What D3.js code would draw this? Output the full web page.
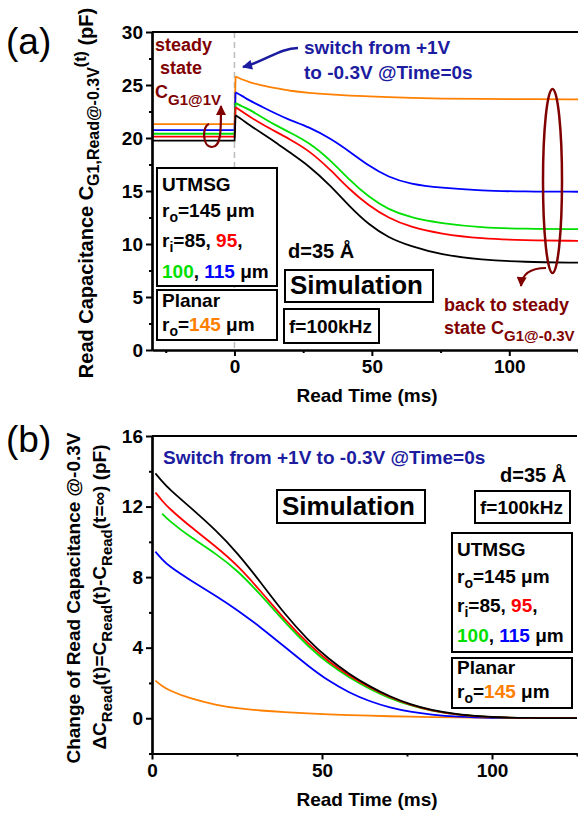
<!DOCTYPE html>
<html>
<head>
<meta charset="utf-8">
<script src="https://cdn.jsdelivr.net/npm/d3@7"></script>
<style>
  body { margin: 0; background: #fff; }
  svg text { font-family: "Liberation Sans", Arial, sans-serif; font-weight: bold; white-space: pre; }
</style>
</head>
<body>
<div id="chart"></div>
<script>
// series order: planar 145, r_i = 115, 100, 95, 85 um
const seriesColors = ["#ff8000", "#0000ff", "#00e000", "#ff0000", "#000000"];

// panel (a): C(t) in pF
const steadyA = [21.3, 20.75, 20.4, 20.13, 19.75];   // before the switch (t < 0)
const timeA = [0.4, 3, 5, 10, 15, 20, 27, 35, 42, 49, 56, 64, 75, 90, 105, 125];
const orangeA = [25.8, 25.5, 25.3, 24.95, 24.7, 24.45, 24.25, 24.1, 24.0, 23.93, 23.85, 23.78, 23.72, 23.68, 23.66, 23.65];
const blueA = [24.3, 23.95, 23.6, 22.95, 22.3, 21.7, 21.05, 19.95, 18.7, 17.35, 16.3, 15.65, 15.3, 15.02, 14.95, 14.93];
const greenA = [23.3, 22.95, 22.75, 21.95, 21.2, 20.55, 19.6, 17.9, 16.0, 14.4, 13.25, 12.5, 11.95, 11.55, 11.43, 11.4];
const redA = [22.9, 22.45, 22.1, 21.3, 20.6, 19.9, 18.85, 17.0, 15.1, 13.6, 12.45, 11.6, 10.95, 10.5, 10.35, 10.3];
const blackA = [22.15, 21.7, 21.3, 20.45, 19.6, 18.65, 17.4, 15.5, 13.5, 11.8, 10.6, 9.8, 9.0, 8.5, 8.3, 8.24];

// panel (b): delta C(t) = C(t) - C(inf)
const timeB = [1, 3, 5, 11, 19, 25, 32, 39, 46, 52, 58, 64, 70, 76, 82, 90, 100, 110, 125];
const orangeB = [2.13, 1.82, 1.58, 1.12, 0.74, 0.56, 0.43, 0.34, 0.27, 0.22, 0.18, 0.14, 0.11, 0.085, 0.065, 0.045, 0.025, 0.012, 0];
const blueB = [9.44, 9.0, 8.62, 7.85, 6.92, 6.15, 5.15, 4.05, 2.95, 2.1, 1.45, 0.95, 0.6, 0.36, 0.2, 0.08, 0.02, 0, 0];
const greenB = [null, 11.6, 11.2, 10.3, 9.3, 8.4, 7.0, 5.45, 4.05, 3.08, 2.3, 1.66, 1.12, 0.72, 0.42, 0.18, 0.05, 0.01, 0];
const redB = [12.8, 12.32, 11.9, 10.9, 9.7, 8.7, 7.2, 5.6, 4.2, 3.2, 2.4, 1.74, 1.18, 0.75, 0.44, 0.19, 0.05, 0.01, 0];
const blackB = [13.88, 13.42, 13.0, 12.0, 10.62, 9.4, 7.7, 5.9, 4.4, 3.35, 2.5, 1.8, 1.22, 0.78, 0.46, 0.2, 0.05, 0.01, 0];

// tick values
const xTicksA = [0, 50, 100], xMinorA = [-25, 25, 75, 125];
const yTicksA = [0, 5, 10, 15, 20, 25, 30], yMinorA = [2.5, 7.5, 12.5, 17.5, 22.5, 27.5];
const xTicksB = [0, 50, 100], xMinorB = [25, 75, 125];
const yTicksB = [0, 4, 8, 12, 16], yMinorB = [-2, 2, 6, 10, 14];

const W = 578, H = 814;
const svg = d3.select("#chart").append("svg").attr("width", W).attr("height", H);

const MAROON = "#800000", NAVY = "#1c1ca0";

// arrow heads
const defs = svg.append("defs");
[["arrMaroon", MAROON], ["arrNavy", NAVY]].forEach(([id, c]) => {
  defs.append("marker")
    .attr("id", id).attr("viewBox", "0 0 10 10")
    .attr("refX", 9).attr("refY", 5)
    .attr("markerUnits", "userSpaceOnUse")
    .attr("markerWidth", 11).attr("markerHeight", 10)
    .attr("orient", "auto")
    .append("path").attr("d", "M0,0 L10,5 L0,10 z").attr("fill", c);
});

// text with subscript / superscript parts
function rich(parent, x, y, parts, size, fill) {
  const t = parent.append("text").attr("x", x).attr("y", y)
    .style("font-size", size + "px").attr("fill", fill || "#000");
  let shift = 0;
  parts.forEach(p => {
    const s = p.s || 0;
    const ts = t.append("tspan").text(p.t).attr("dy", s - shift);
    shift = s;
    if (p.size) ts.style("font-size", p.size + "px");
    if (p.fill) ts.attr("fill", p.fill);
  });
  return t;
}

function drawAxes(g, x, y, xt, xm, yt, ym) {
  const [x0, x1] = x.range(), [y0, y1] = y.range();
  g.append("g").attr("transform", `translate(0,${y0})`)
    .call(d3.axisBottom(x).tickValues(xt).tickSize(6).tickPadding(4).tickSizeOuter(0).tickFormat(d3.format("d")));
  g.append("g").attr("transform", `translate(0,${y0})`).attr("class", "minor")
    .call(d3.axisBottom(x).tickValues(xm).tickSize(3).tickSizeOuter(0).tickFormat(""));
  g.append("g").attr("transform", `translate(${x0},0)`)
    .call(d3.axisLeft(y).tickValues(yt).tickSize(6).tickPadding(3).tickSizeOuter(0).tickFormat(d3.format("d")));
  g.append("g").attr("transform", `translate(${x0},0)`).attr("class", "minor")
    .call(d3.axisLeft(y).tickValues(ym).tickSize(3).tickSizeOuter(0).tickFormat(""));
  g.selectAll(".domain").attr("stroke-width", 2.2);
  g.selectAll(".tick line").attr("stroke-width", 2);
  g.selectAll(".tick text").style("font-size", "19px").attr("fill", "#000");
  // top frame line
  g.append("line").attr("x1", x0).attr("x2", x1).attr("y1", y1).attr("y2", y1)
    .attr("stroke", "#000").attr("stroke-width", 2.2);
}

function box(g, x, y, w, h) {
  g.append("rect").attr("x", x).attr("y", y).attr("width", w).attr("height", h)
    .attr("fill", "#fff").attr("stroke", "#000").attr("stroke-width", 2);
}

function legendBoxes(g, bx, by, lineYs, planarY, planarLines) {
  box(g, bx, by, 120, lineYs[4]);
  const tx = bx + 5;
  rich(g, tx, lineYs[0], [{t: "UTMSG"}], 19);
  rich(g, tx, lineYs[1], [{t: "r"}, {t: "o", s: 5, size: 14}, {t: "=145 μm", s: 0}], 19);
  rich(g, tx, lineYs[2], [{t: "r"}, {t: "i", s: 5, size: 14}, {t: "=85, ", s: 0}, {t: "95", fill: seriesColors[3]}, {t: ","}], 19);
  rich(g, tx, lineYs[3], [{t: "100", fill: seriesColors[2]}, {t: ", "}, {t: "115", fill: seriesColors[1]}, {t: " μm"}], 19);
  box(g, bx, planarY, 120, 50);
  rich(g, tx, planarLines[0], [{t: "Planar"}], 19);
  rich(g, tx, planarLines[1], [{t: "r"}, {t: "o", s: 5, size: 14}, {t: "=", s: 0}, {t: "145", fill: seriesColors[0]}, {t: " μm"}], 19);
}

// ---------------- panel (a) ----------------
const gA = svg.append("g");
const xA = d3.scaleLinear().domain([-30, 125]).range([152, 578]);
const yA = d3.scaleLinear().domain([0, 30]).range([350, 32]);

// dashed line at t = 0
gA.append("line").attr("x1", xA(0)).attr("x2", xA(0)).attr("y1", yA(30)).attr("y2", yA(0))
  .attr("stroke", "#bbb").attr("stroke-width", 1.5).attr("stroke-dasharray", "6,4");

const seriesA = [orangeA, blueA, greenA, redA, blackA];
const lineLin = d3.line().x(d => xA(d[0])).y(d => yA(d[1]));
const lineA = d3.line().x(d => xA(d[0])).y(d => yA(d[1])).curve(d3.curveBasis);
seriesA.forEach((vals, i) => {
  const pre = [[-30, steadyA[i]], [0.05, steadyA[i]], [timeA[0], vals[0]]];
  gA.append("path").attr("d", lineLin(pre)).attr("fill", "none")
    .attr("stroke", seriesColors[i]).attr("stroke-width", 1.8);
  gA.append("path").attr("d", lineA(timeA.map((t, j) => [t, vals[j]]))).attr("fill", "none")
    .attr("stroke", seriesColors[i]).attr("stroke-width", 1.8);
});

drawAxes(gA, xA, yA, xTicksA, xMinorA, yTicksA, yMinorA);

// panel label and axis titles
gA.append("text").attr("x", 6).attr("y", 54).style("font-size", "37px").style("font-weight", "normal").text("(a)");
gA.append("text").attr("x", 367).attr("y", 402).attr("text-anchor", "middle").style("font-size", "19px").text("Read Time (ms)");
rich(gA, 0, 0, [
  {t: "Read Capacitance C"}, {t: "G1,Read@-0.3V", s: 6, size: 16},
  {t: "(t)", s: -7, size: 16}, {t: " (pF)", s: 0}], 20)
  .attr("transform", "translate(93,193) rotate(-90)").attr("text-anchor", "middle");

// annotations
rich(gA, 155, 51, [{t: "steady"}], 18, MAROON);
rich(gA, 160, 74, [{t: "state"}], 18, MAROON);
rich(gA, 155, 98, [{t: "C"}, {t: "G1@1V", s: 7, size: 15}], 18, MAROON);
gA.append("path").attr("d", "M209,124 C202,126 202,147 212,147 C221,147 221,132 221,106")
  .attr("fill", "none").attr("stroke", MAROON).attr("stroke-width", 2.2).attr("marker-end", "url(#arrMaroon)");

rich(gA, 304, 54, [{t: "switch from +1V"}], 19, NAVY);
rich(gA, 304, 79, [{t: "to -0.3V @Time=0s"}], 19, NAVY);
gA.append("path").attr("d", "M298,48 C280,48 266,61 243,67")
  .attr("fill", "none").attr("stroke", NAVY).attr("stroke-width", 2.5).attr("marker-end", "url(#arrNavy)");

gA.append("ellipse").attr("cx", 552.5).attr("cy", 181).attr("rx", 9.5).attr("ry", 92)
  .attr("fill", "none").attr("stroke", MAROON).attr("stroke-width", 2.5);
gA.append("path").attr("d", "M546,268 C531,268 522,273 521,286")
  .attr("fill", "none").attr("stroke", MAROON).attr("stroke-width", 2.2).attr("marker-end", "url(#arrMaroon)");
rich(gA, 444, 311, [{t: "back to steady"}], 18, MAROON);
rich(gA, 444, 334, [{t: "state C"}, {t: "G1@-0.3V", s: 7, size: 15}], 18, MAROON);

legendBoxes(gA, 157, 168, [191, 217, 247, 278, 118], 290, [307, 331]);

gA.append("text").attr("x", 288).attr("y", 258).style("font-size", "20px").text("d=35 Å");
box(gA, 285, 270, 148, 32);
gA.append("text").attr("x", 290).attr("y", 294).style("font-size", "26px").text("Simulation");
box(gA, 284, 309, 95, 34);
gA.append("text").attr("x", 289).attr("y", 333).style("font-size", "19px").text("f=100kHz");

// ---------------- panel (b) ----------------
const gB = svg.append("g");
const xB = d3.scaleLinear().domain([0, 125]).range([152, 577]);
const yB = d3.scaleLinear().domain([-2, 16]).range([753.5, 436]);

const seriesB = [orangeB, blueB, greenB, redB, blackB];
const lineB = d3.line().defined(d => d[1] != null).x(d => xB(d[0])).y(d => yB(d[1])).curve(d3.curveBasis);
seriesB.forEach((vals, i) => {
  gB.append("path").attr("d", lineB(timeB.map((t, j) => [t, vals[j]]))).attr("fill", "none")
    .attr("stroke", seriesColors[i]).attr("stroke-width", 1.8);
});

drawAxes(gB, xB, yB, xTicksB, xMinorB, yTicksB, yMinorB);

gB.append("text").attr("x", 6).attr("y", 452).style("font-size", "37px").style("font-weight", "normal").text("(b)");
gB.append("text").attr("x", 367).attr("y", 806).attr("text-anchor", "middle").style("font-size", "19px").text("Read Time (ms)");
gB.append("text").attr("transform", "translate(80,598) rotate(-90)").attr("text-anchor", "middle")
  .style("font-size", "19px").text("Change of Read Capacitance @-0.3V");
rich(gB, 0, 0, [
  {t: "ΔC"}, {t: "Read", s: 6, size: 15}, {t: "(t)=C", s: 0}, {t: "Read", s: 6, size: 15},
  {t: "(t)-C", s: 0}, {t: "Read", s: 6, size: 15}, {t: "(t=∞) (pF)", s: 0}], 19)
  .attr("transform", "translate(106,597) rotate(-90)").attr("text-anchor", "middle");

rich(gB, 163, 464, [{t: "Switch from +1V to -0.3V @Time=0s"}], 19, NAVY);
gB.append("text").attr("x", 500).attr("y", 482).style("font-size", "20px").text("d=35 Å");
box(gB, 277, 490, 148, 33);
gB.append("text").attr("x", 282).attr("y", 515).style("font-size", "26px").text("Simulation");
box(gB, 475, 491, 95, 32);
gB.append("text").attr("x", 480).attr("y", 514).style("font-size", "19px").text("f=100kHz");

legendBoxes(gB, 452, 533, [556, 583, 612, 642, 119], 658, [674, 698]);
</script>
</body>
</html>
